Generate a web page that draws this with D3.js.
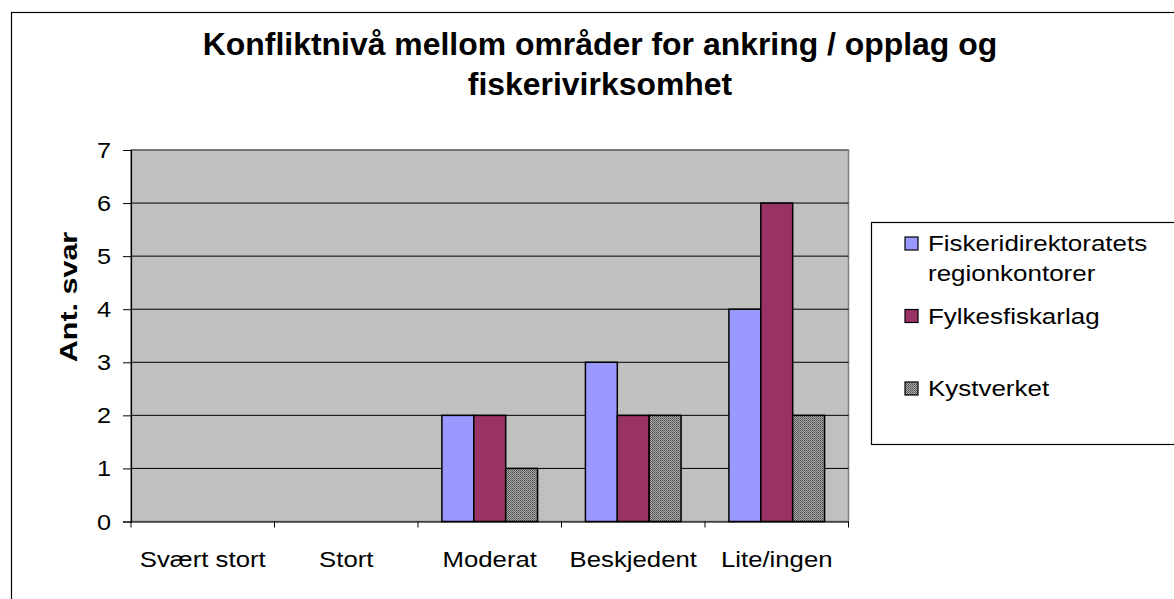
<!DOCTYPE html>
<html>
<head>
<meta charset="utf-8">
<script src="https://cdn.jsdelivr.net/npm/d3@7"></script>
<style>
  body { margin: 0; background: #fff; }
  text { font-family: "Liberation Sans", Arial, sans-serif; fill: #000; }
</style>
</head>
<body>
<div id="chart"></div>
<script>
const categories = ["Svært stort", "Stort", "Moderat", "Beskjedent", "Lite/ingen"];
const seriesNames = ["Fiskeridirektoratets regionkontorer", "Fylkesfiskarlag", "Kystverket"];
const fiskeridir = [0, 0, 2, 3, 4];
const fylkesfisk = [0, 0, 2, 2, 6];
const kystverket = [0, 0, 1, 2, 2];
const yTicks = [0, 1, 2, 3, 4, 5, 6, 7];
const titleLines = ["Konfliktnivå mellom områder for ankring / opplag og", "fiskerivirksomhet"];
const yTitle = "Ant. svar";

const W = 1174, H = 599;
const plot = {left: 131, right: 848.5, top: 150, bottom: 521.5};

const svg = d3.select("#chart").append("svg")
    .attr("width", W).attr("height", H);

// hatch for the third series
const defs = svg.append("defs");
const pat = defs.append("pattern").attr("id", "hatch")
    .attr("patternUnits", "userSpaceOnUse").attr("width", 2).attr("height", 2);
pat.append("rect").attr("width", 2).attr("height", 2).attr("fill", "#a6a6a6");
pat.append("rect").attr("width", 1).attr("height", 1).attr("fill", "#505050");
pat.append("rect").attr("x", 1).attr("y", 1).attr("width", 1).attr("height", 1).attr("fill", "#6a6a6a");

const colors = ["#9999ff", "#993366", "url(#hatch)"];

// outer chart frame
svg.append("rect").attr("x", 11.5).attr("y", 12.5)
    .attr("width", W + 20).attr("height", H + 20)
    .attr("fill", "#fff").attr("stroke", "#000").attr("stroke-width", 1.2);

function stretchedText(g, x, y, str, size, sx, anchor, weight) {
    return g.append("text")
        .attr("transform", "translate(" + x + "," + y + ") scale(" + sx + ",1)")
        .attr("text-anchor", anchor)
        .attr("font-size", size)
        .attr("font-weight", weight || "normal")
        .text(str);
}

// title
titleLines.forEach((t, i) => {
    stretchedText(svg, 600, 55 + i * 40, t, 31, 1.03, "middle", "bold");
});

const x = d3.scaleBand().domain(categories).range([plot.left, plot.right]).padding(0);
const xs = d3.scaleBand().domain(d3.range(seriesNames.length))
    .range([0, x.bandwidth()]).paddingInner(0).paddingOuter(0.75);
const y = d3.scaleLinear().domain([0, 7]).range([plot.bottom, plot.top]);

// plot background
svg.append("rect")
    .attr("x", plot.left).attr("y", plot.top)
    .attr("width", plot.right - plot.left).attr("height", plot.bottom - plot.top)
    .attr("fill", "#c0c0c0").attr("stroke", "#808080").attr("stroke-width", 1.5);

// gridlines
svg.append("g").selectAll("line")
    .data(yTicks.filter(d => d > 0))
    .enter().append("line")
    .attr("x1", plot.left).attr("x2", plot.right)
    .attr("y1", d => y(d)).attr("y2", d => y(d))
    .attr("stroke", d => d === 7 ? "#555" : "#000").attr("stroke-width", 1);

// bars
const allSeries = [fiskeridir, fylkesfisk, kystverket];
allSeries.forEach((vals, si) => {
    svg.append("g").selectAll("rect")
        .data(vals.map((v, i) => ({cat: categories[i], v: v})).filter(d => d.v > 0))
        .enter().append("rect")
        .attr("x", d => x(d.cat) + xs(si))
        .attr("y", d => y(d.v))
        .attr("width", xs.bandwidth())
        .attr("height", d => y(0) - y(d.v))
        .attr("fill", colors[si])
        .attr("stroke", "#000").attr("stroke-width", 1.5);
});

// y axis
const yAxis = svg.append("g").attr("transform", "translate(" + plot.left + ",0)")
    .call(d3.axisLeft(y).tickValues(yTicks).tickSize(8).tickFormat(""));
yAxis.select(".domain").attr("stroke", "#000").attr("stroke-width", 1.2);
yAxis.selectAll(".tick line").attr("stroke", "#000");
yTicks.forEach(t => {
    stretchedText(svg, 111, y(t) + 8, String(t), 22, 1.15, "end");
});

// x axis
const xAxis = svg.append("g").attr("transform", "translate(0," + plot.bottom + ")")
    .call(d3.axisBottom(x).tickSize(0).tickFormat(""));
xAxis.select(".domain").attr("stroke", "#000").attr("stroke-width", 1.2);
svg.append("g").selectAll("line")
    .data(categories.concat(["end"]))
    .enter().append("line")
    .attr("x1", (d, i) => plot.left + i * x.step())
    .attr("x2", (d, i) => plot.left + i * x.step())
    .attr("y1", plot.bottom).attr("y2", plot.bottom + 6)
    .attr("stroke", "#000");
categories.forEach(c => {
    stretchedText(svg, x(c) + x.bandwidth() / 2, 567, c, 22, 1.17, "middle");
});

// y title
svg.append("text")
    .attr("transform", "translate(77,297) rotate(-90) scale(1.27,1)")
    .attr("text-anchor", "middle")
    .attr("font-size", 24).attr("font-weight", "bold")
    .text(yTitle);

// legend
const leg = svg.append("g");
leg.append("rect").attr("x", 871.5).attr("y", 222.5)
    .attr("width", 400).attr("height", 222)
    .attr("fill", "#fff").attr("stroke", "#000").attr("stroke-width", 1.2);
seriesNames.forEach((name, i) => {
    const base = 251 + i * 72.5;
    leg.append("rect").attr("x", 905).attr("y", base - 14)
        .attr("width", 13).attr("height", 13)
        .attr("fill", colors[i]).attr("stroke", "#000").attr("stroke-width", 1.2);
    const lines = name.length > 20 ? name.split(" ") : [name];
    lines.forEach((ln, k) => {
        stretchedText(leg, 928, base + k * 30, ln, 22, 1.18, "start");
    });
});
</script>
</body>
</html>
